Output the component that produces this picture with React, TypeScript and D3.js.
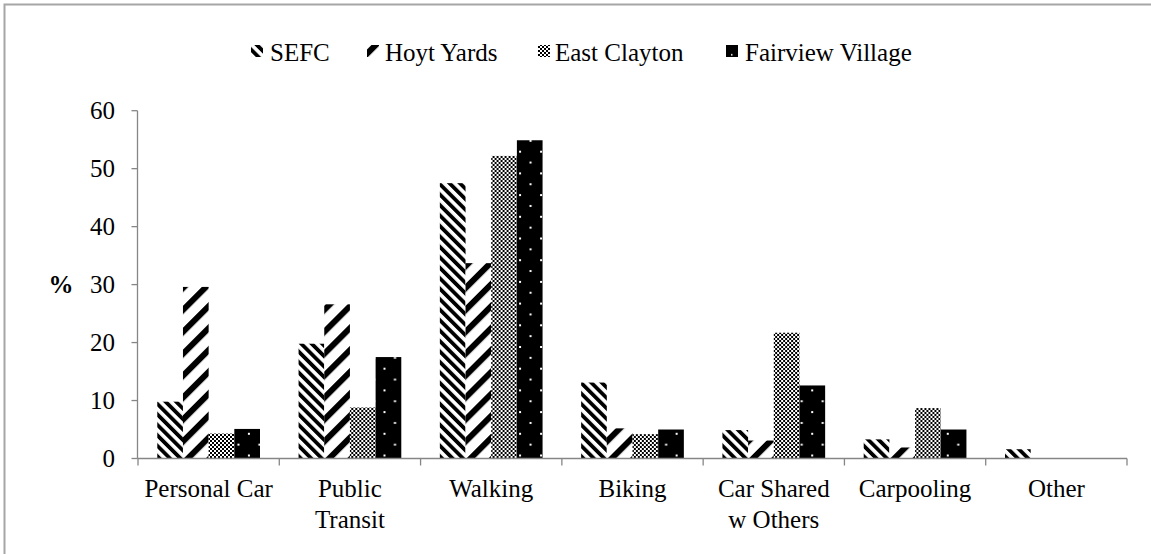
import React from "react";
import * as d3 from "d3";

const categories = ["Personal Car", "Public\nTransit", "Walking", "Biking", "Car Shared\nw Others", "Carpooling", "Other"];
const seriesNames = ["SEFC", "Hoyt Yards", "East Clayton", "Fairview Village"];
const sefc = [9.8, 19.8, 47.5, 13.1, 4.9, 3.3, 1.6];
const hoyt = [29.6, 26.6, 33.7, 5.2, 3.1, 1.9, 0];
const eastClayton = [4.3, 8.8, 52.2, 4.2, 21.7, 8.7, 0];
const fairview = [5.1, 17.5, 54.9, 5.0, 12.6, 5.0, 0];
const yTicks = [0, 10, 20, 30, 40, 50, 60];

const seriesValues = [sefc, hoyt, eastClayton, fairview];
const W = 1151;
const H = 554;
const FONT = "Liberation Serif";
const AXIS = "#868686";
const textStyle = { fontFamily: FONT, fontSize: "25px" };

export default function App() {
  const y = d3.scaleLinear().domain([0, 60]).range([458.5, 110.7]);
  const x0 = d3.scaleBand<string>().domain(categories).range([138, 1127]).padding(0);
  const x1 = d3
    .scaleBand<string>()
    .domain(seriesNames)
    .range([x0.bandwidth() * 0.1365, x0.bandwidth() * (1 - 0.1365)])
    .padding(0);
  const bw = x1.bandwidth();
  const fills = ["url(#pSefc)", "url(#pHoyt)", "url(#pEast)", null];

  const legendItems = [
    { name: seriesNames[0], mx: 251, tx: 270 },
    { name: seriesNames[1], mx: 367, tx: 385 },
    { name: seriesNames[2], mx: 538, tx: 555 },
    { name: seriesNames[3], mx: 726, tx: 745 },
  ];

  return (
    <svg width={W} height={H} style={{ position: "absolute", left: 0, top: 0, background: "#fff", fontFamily: FONT }}>
      <defs>
        <pattern id="pSefc" patternUnits="userSpaceOnUse" width={7.4} height={7.4} patternTransform="rotate(-45)">
          <rect width={7.4} height={7.4} fill="#fff" />
          <rect width={3.8} height={7.4} fill="#000" />
        </pattern>
        <pattern id="pHoyt" patternUnits="userSpaceOnUse" width={15.5} height={15.5} patternTransform="rotate(45)">
          <rect width={15.5} height={15.5} fill="#fff" />
          <rect width={6} height={15.5} fill="#000" />
        </pattern>
        <pattern id="pEast" patternUnits="userSpaceOnUse" width={4} height={4}>
          <rect width={4} height={4} fill="#fff" />
          <rect x={0} y={0} width={2} height={2} fill="#000" />
          <rect x={2} y={2} width={2} height={2} fill="#000" />
        </pattern>
        {categories.map((c, i) => {
          const bx = (x0(c) as number) + (x1(seriesNames[3]) as number);
          return (
            <pattern key={i} id={`pFv${i}`} patternUnits="userSpaceOnUse" x={bx + 2.6} y={y(0) - 3} width={21} height={21.7}>
              <rect width={21} height={21.7} fill="#000" />
              <rect x={-1} y={-1} width={2} height={2} fill="#fff" />
              <rect x={20} y={-1} width={2} height={2} fill="#fff" />
              <rect x={-1} y={20.7} width={2} height={2} fill="#fff" />
              <rect x={20} y={20.7} width={2} height={2} fill="#fff" />
              <rect x={9.5} y={9.85} width={2} height={2} fill="#fff" />
            </pattern>
          );
        })}
        <pattern id="pFvLeg" patternUnits="userSpaceOnUse" x={726} y={45} width={21} height={21.7}>
          <rect width={21} height={21.7} fill="#000" />
          <rect x={5} y={9} width={1.5} height={1.5} fill="#fff" />
        </pattern>
      </defs>

      {/* chart border */}
      <rect x={4.5} y={4.5} width={1170} height={570} fill="none" stroke="#a6a6a6" strokeWidth={2} />

      {/* legend */}
      {legendItems.map((l, i) => (
        <g key={l.name}>
          <rect x={l.mx} y={45} width={12} height={12} fill={i === 3 ? "url(#pFvLeg)" : (fills[i] as string)} />
          <text x={l.tx} y={61} style={textStyle} fill="#000">
            {l.name}
          </text>
        </g>
      ))}

      {/* bars */}
      {categories.map((c, ci) => (
        <g key={c} transform={`translate(${x0(c)},0)`}>
          {seriesNames.map((s, si) => {
            const v = seriesValues[si][ci];
            if (v <= 0) return null;
            const bx = x1(s) as number;
            return (
              <rect
                key={s}
                x={bx}
                y={y(v)}
                width={bw}
                height={y(0) - y(v)}
                fill={si === 3 ? `url(#pFv${ci})` : (fills[si] as string)}
              />
            );
          })}
        </g>
      ))}

      {/* y axis */}
      <line x1={137.5} x2={137.5} y1={y(60)} y2={y(0)} stroke={AXIS} strokeWidth={1.3} />
      {yTicks.map((t) => (
        <g key={t}>
          <line x1={131.5} x2={137.5} y1={y(t)} y2={y(t)} stroke={AXIS} strokeWidth={1.3} />
          <text x={115} y={y(t)} dy="0.35em" textAnchor="end" style={textStyle} fill="#000">
            {t}
          </text>
        </g>
      ))}
      <text x={61} y={y(30)} dy="0.35em" textAnchor="middle" style={{ ...textStyle, fontWeight: "bold" }} fill="#000">
        %
      </text>

      {/* x axis */}
      <line x1={137.5} x2={1127} y1={y(0)} y2={y(0)} stroke={AXIS} strokeWidth={1.3} />
      {[...categories.map((c) => x0(c) as number), 1127].map((t, i) => (
        <line key={i} x1={t} x2={t} y1={y(0)} y2={y(0) + 7} stroke={AXIS} strokeWidth={1.3} />
      ))}
      {categories.map((c) => {
        const cx = (x0(c) as number) + x0.bandwidth() / 2;
        return (
          <text key={c} x={cx} y={497} textAnchor="middle" style={textStyle} fill="#000">
            {c.split("\n").map((line, li) => (
              <tspan key={li} x={cx} dy={li === 0 ? 0 : 31}>
                {line}
              </tspan>
            ))}
          </text>
        );
      })}
    </svg>
  );
}
